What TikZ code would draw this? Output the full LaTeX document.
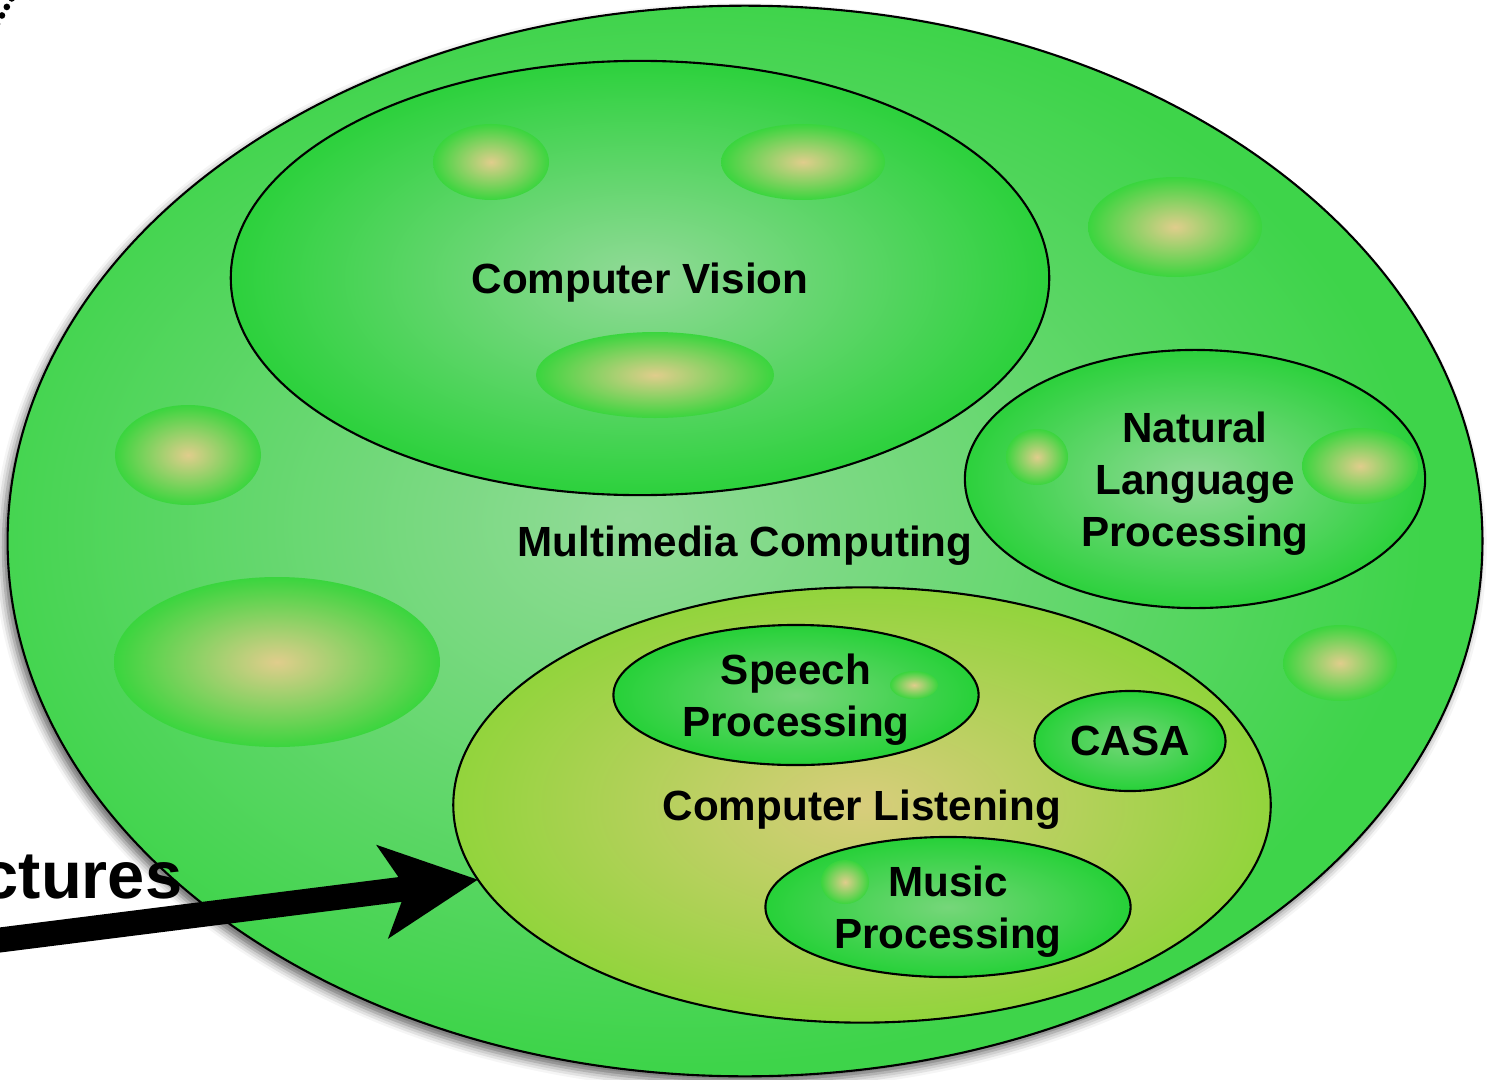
\documentclass[tikz,border=0pt]{standalone}
\usepackage{fontspec}
\setmainfont{Liberation Sans}
\usetikzlibrary{shapes.geometric,shadows.blur,arrows.meta}

\definecolor{mmgreen}{RGB}{62,212,74}
\definecolor{mmlight}{RGB}{146,219,152}
\definecolor{subgreen}{RGB}{44,209,60}
\definecolor{sublight}{RGB}{146,218,152}
\definecolor{cltan}{RGB}{216,205,124}
\definecolor{clgreen}{RGB}{146,212,60}
\definecolor{smallgreen}{RGB}{38,209,56}
\definecolor{smalllight}{RGB}{118,214,122}
\definecolor{blobtan}{RGB}{224,205,140}
\definecolor{blobgreen}{RGB}{58,213,62}

% glow sits a bit left of the centre of the big field
\pgfdeclareradialshading{mmglow}{\pgfpoint{-4bp}{1bp}}{color(0bp)=(mmlight); color(25bp)=(mmgreen); color(50bp)=(mmgreen)}

\begin{document}
\begin{tikzpicture}[x=0.01cm,y=-0.01cm,
  region/.style={ellipse,draw=black,line width=0.6pt,inner sep=0pt,outer sep=0pt,
    align=center,text depth=0pt,font=\fontsize{12}{14.8}\selectfont\bfseries},
  field/.style={shading=mmglow},
  subfield/.style={shading=radial,inner color=sublight,outer color=subgreen},
  listenfield/.style={shading=radial,inner color=cltan,outer color=clgreen},
  smallfield/.style={shading=radial,inner color=smalllight,outer color=smallgreen},
  blob/.style={shading=radial,inner color=blobtan,outer color=blobgreen}]
\useasboundingbox (0,0) rectangle (1489,1079);

% outer field
\node[region,field,minimum width=14.74cm,minimum height=10.70cm,
  blur shadow={shadow xshift=-1.3pt,shadow yshift=-1.8pt,shadow blur radius=2.5pt,shadow opacity=60}]
  (multimedia) at (745,541) {Multimedia Computing};
\path[blob] (188,455) ellipse (73 and 50);
\path[blob] (277,662) ellipse (163 and 85);
\path[blob] (1175,227) ellipse (87 and 50);
\path[blob] (1340,663) ellipse (57 and 38);

% vision
\node[region,subfield,minimum width=8.18cm,minimum height=4.34cm] (vision) at (640,278) {Computer Vision};
\path[blob] (491,162) ellipse (58 and 38);
\path[blob] (803,162) ellipse (82 and 38);
\path[blob] (655,375) ellipse (119 and 43);

% language
\node[region,subfield,minimum width=4.60cm,minimum height=2.58cm] (language) at (1195,479) {Natural\\Language\\Processing};
\path[blob] (1037,457) ellipse (31 and 28);
\path[blob] (1360,466) ellipse (58 and 38);

% listening and what is inside it
\node[region,listenfield,minimum width=8.17cm,minimum height=4.35cm] (listen) at (862,805) {Computer Listening};
\node[region,smallfield,minimum width=3.65cm,minimum height=1.40cm] (speech) at (796,695) {Speech\\Processing};
\path[blob] (914,685) ellipse (24 and 14);
\node[region,smallfield,minimum width=1.91cm,minimum height=1.00cm] (casa) at (1130,741) {CASA};
\node[region,smallfield,minimum width=3.65cm,minimum height=1.40cm] (music) at (948,907) {Music\\Processing};
\path[blob] (845,882) ellipse (24 and 22);

% pointer from the left
\node[anchor=base east,inner sep=0pt,font=\fontsize{19}{22}\selectfont\bfseries] (lectures) at (183,898) {ctures};
\coordinate (tail) at (-40,945);
\draw[-{Stealth[length=27pt,width=26pt,inset=6.5pt]},line width=7.1pt] (tail) -- (listen.191);

\draw[line width=1.9pt,line cap=round,dash pattern=on 0pt off 2.8pt] (-3,24) -- (12,-2);
\end{tikzpicture}
\end{document}
